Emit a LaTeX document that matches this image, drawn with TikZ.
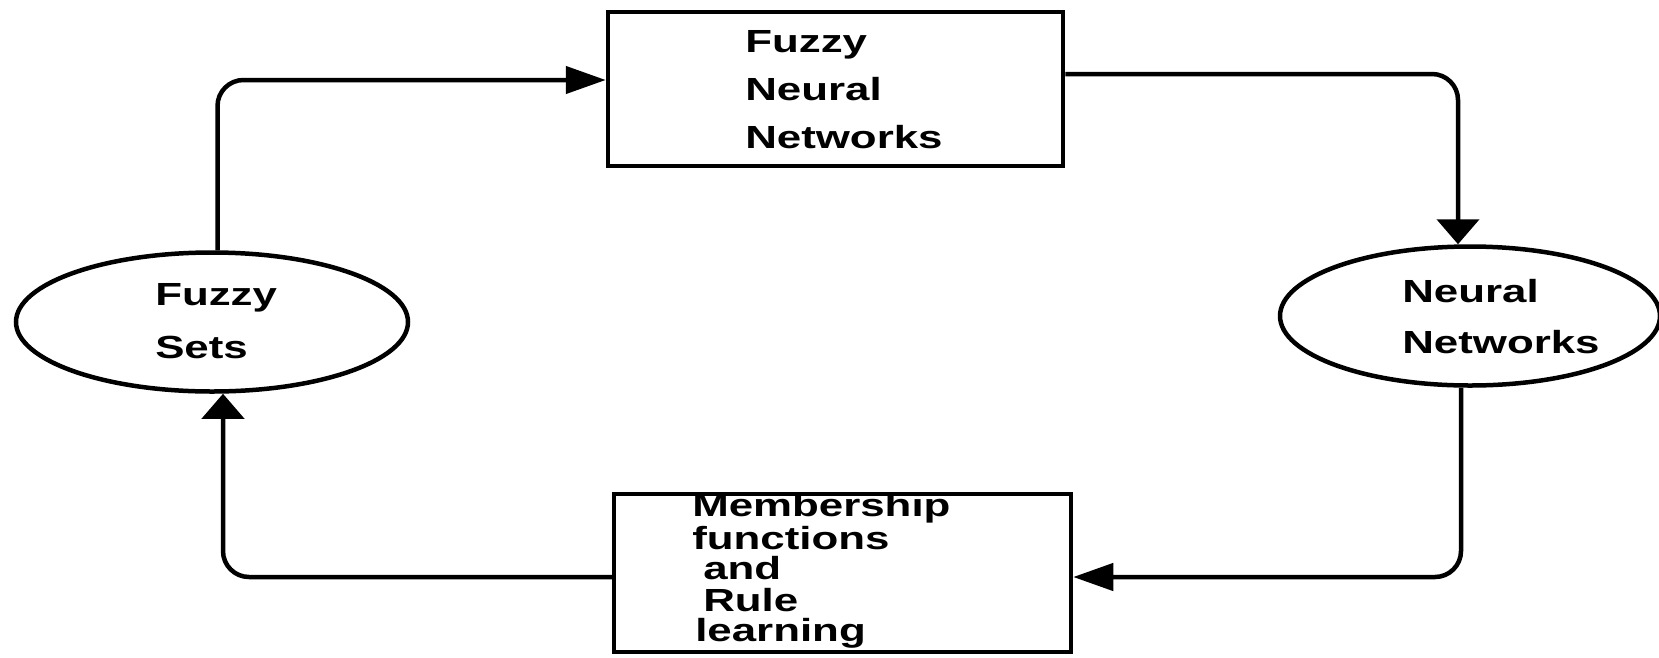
\documentclass[tikz,border=0pt]{standalone}
\usepackage{fontspec}
\usetikzlibrary{shapes.geometric,arrows.meta}
% wide, heavy grotesque for all labels
\newfontfamily\lblfont{Liberation Sans Bold}[FakeStretch=1.37]
\begin{document}
\begin{tikzpicture}[x=1pt,y=-1pt,
  line width=4.5pt,
  shapebox/.style={draw,rectangle,inner sep=0pt},
  shapeoval/.style={draw,ellipse,inner sep=0pt},
  lbl/.style={anchor=base west,inner sep=0pt,font=\lblfont\fontsize{32}{32}\selectfont},
  link/.style={rounded corners=26pt},
  harrow/.style={link,-{Triangle[length=40pt,width=27pt]}},
  varrow/.style={link,-{Triangle[length=25pt,width=42pt]}}]
\useasboundingbox (0,0) rectangle (1659,657);

% the four stages of the cycle
\node[shapebox,minimum width=455pt,minimum height=154pt] (fnn) at (835.5,89) {};
\node[shapeoval,minimum width=380pt,minimum height=139pt] (nn) at (1470,316) {};
\node[shapebox,minimum width=457pt,minimum height=158pt] (mf) at (842.5,573) {};
\node[shapeoval,minimum width=392pt,minimum height=139pt] (fs) at (212,322) {};

% labels
\node[lbl] (fnn1) at (743,52) {Fuzzy};
\node[lbl] (fnn2) at (743,100) {Neural};
\node[lbl] (fnn3) at (743,148) {Networks};

\node[lbl] (nn1) at (1400,302) {Neural};
\node[lbl] (nn2) at (1400,353) {Networks};

\node[lbl] (mf1) at (690,516) {Membership};
\node[lbl] (mf2) at (690,549) {functions};
\node[lbl] (mf3) at (701,579) {and};
\node[lbl] (mf4) at (701,611) {Rule};
\node[lbl] (mf5) at (693,641) {learning};

\node[lbl] (fs1) at (153,305) {Fuzzy};
\node[lbl] (fs2) at (153,358) {Sets};

% connectors around the loop
\draw[harrow] ([xshift=5.5pt]fs.north) |- ([yshift=9pt]fnn.west);
\draw[varrow] ([yshift=15pt]fnn.east) -| ([xshift=-12pt]nn.north);
\draw[harrow] ([xshift=-9pt]nn.south) |- ([yshift=-4pt]mf.east);
\draw[varrow] ([yshift=-4pt]mf.west) -| ([xshift=11pt]fs.south);
\end{tikzpicture}
\end{document}
